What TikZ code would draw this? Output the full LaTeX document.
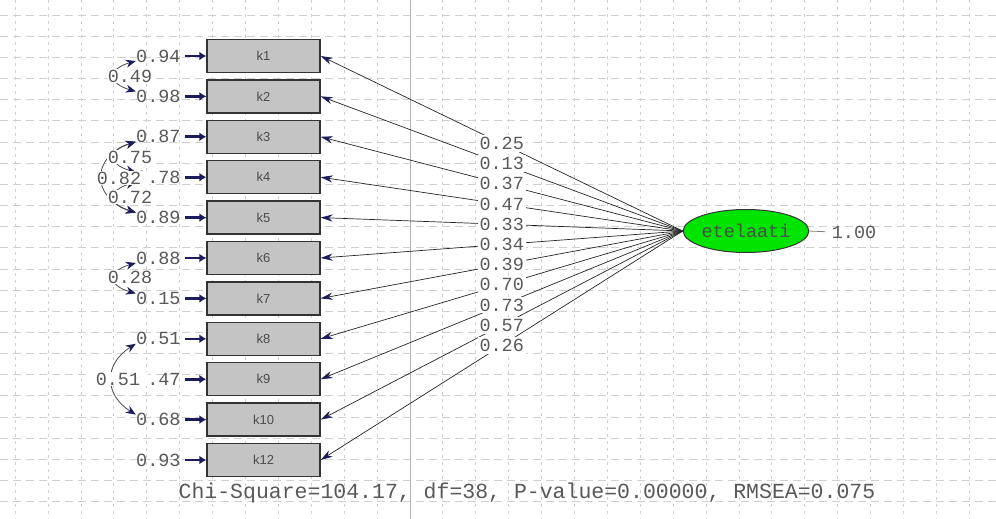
\documentclass[tikz,border=0pt]{standalone}
\usepackage{fontspec}
\usetikzlibrary{shapes.geometric,arrows.meta,calc}
\newfontfamily\lismono{Liberation Mono}
\newfontfamily\lissans{Liberation Sans}
\definecolor{lisnavy}{HTML}{1C1C5C}
\definecolor{lisgreen}{HTML}{00E400}
\definecolor{lisbox}{HTML}{C4C4C4}
\definecolor{lisgrid}{HTML}{D0D0D0}
\tikzset{
  itembox/.style={draw=black!80, line width=0.7pt, fill=lisbox, minimum width=56.5pt,
    minimum height=16.5pt, inner sep=0pt, font=\lissans\fontsize{6.5}{7}\selectfont, text=black!70},
  latent/.style={ellipse, draw=black!80, line width=0.5pt, fill=lisgreen, minimum width=56.5pt,
    minimum height=21.5pt, inner sep=0pt, font=\lismono\fontsize{9.25}{10}\selectfont, text=black!70},
  numlbl/.style={inner sep=0pt, font=\lismono\fontsize{9.25}{10}\selectfont, text=black!65},
  pathlbl/.style={numlbl, fill=white, inner sep=1pt},
  loading/.style={draw=black!85, line width=0.35pt, -{Stealth[length=6pt,width=3.6pt,color=lisnavy]}},
  errarrow/.style={draw=lisnavy, line width=1.3pt, shorten <=2pt, -{Latex[length=3.5pt,width=4.5pt]}},
  covarc/.style={draw=black!70, line width=0.4pt,
    {Stealth[length=5pt,width=4pt,color=lisnavy]}-{Stealth[length=5pt,width=4pt,color=lisnavy]}},
  gridh/.style={draw=lisgrid, line width=0.3pt, dash pattern=on 4pt off 2.5pt},
  gridv/.style={draw=lisgrid, line width=0.3pt, dash pattern=on 1.5pt off 2pt}
}

\begin{document}
\begin{tikzpicture}[x=0.5pt,y=-0.5pt]
        \fill[white] (0,0) rectangle (996,519);
        \useasboundingbox (0,0) rectangle (996,519);

        % 背景网格
        \foreach \gy in {0,...,23}
            \draw[gridh] (0,{15+21.15*\gy}) -- (996,{15+21.15*\gy});
        \foreach \gx in {0,...,30}
            \draw[gridv] ({15+32.9*\gx},0) -- ({15+32.9*\gx},519);
        \draw[draw=black!30, line width=0.5pt] (410,0) -- (410,519);

        % 潜变量
        \node[latent] (eta) at (746,231) {etelaati};
        \node[numlbl] (etavar) at (854,232) {1.00};
        \draw[black!50, line width=0.4pt, shorten >=3pt] (eta.east) -- (etavar.west);

        % 观测变量、误差方差和载荷
        \foreach \n/\ev/\lv [count=\i from 0] in {1/0.94/0.25, 2/0.98/0.13, 3/0.87/0.37,
                4/0.78/0.47, 5/0.89/0.33, 6/0.88/0.34, 7/0.15/0.39, 8/0.51/0.70,
                9/0.47/0.73, 10/0.68/0.57, 12/0.93/0.26} {
            \node[itembox] (k\n) at (263.5,{56+40.4*\i}) {k\n};
            \node[numlbl, anchor=east] (e\n) at (181,{56+40.4*\i}) {\ev};
            \draw[errarrow] (e\n) -- (k\n);
            \draw[loading] (eta.west) -- node[pathlbl, midway] {\lv} (k\n.east);
        }

        % 误差协方差
        \draw[covarc] ($(e1.west)+(0,5)$) .. controls +(-28,8) and +(-28,-8) .. ($(e2.west)+(0,-5)$);
        \draw[covarc] ($(e3.west)+(0,5)$) .. controls +(-45,15) and +(-45,-15) .. ($(e5.west)+(0,-5)$);
        \draw[covarc] ($(e3.west)+(0,5)$) .. controls +(-28,8) and +(-28,-8) .. ($(e4.west)+(0,-5)$);
        \draw[covarc] ($(e4.west)+(0,5)$) .. controls +(-28,8) and +(-28,-8) .. ($(e5.west)+(0,-5)$);
        \draw[covarc] ($(e6.west)+(0,5)$) .. controls +(-28,8) and +(-28,-8) .. ($(e7.west)+(0,-5)$);
        \draw[covarc] ($(e8.west)+(0,5)$) .. controls +(-32,20) and +(-32,-20) .. ($(e10.west)+(0,-5)$);
        \node[pathlbl, inner sep=0.5pt] (c12) at (130,76) {0.49};
        \node[pathlbl, inner sep=0.5pt] (c34) at (130,157) {0.75};
        \node[pathlbl, inner sep=0.5pt] (c45) at (130,197) {0.72};
        \node[pathlbl, inner ysep=0.5pt, inner xsep=4pt] (c35) at (119,178) {0.82};
        \node[pathlbl, inner ysep=0.5pt, inner xsep=4pt] (c810) at (118,379) {0.51};
        \node[pathlbl, inner sep=0.5pt] (c67) at (130,277) {0.28};

        % 拟合指标
        \node[numlbl, font=\lismono\fontsize{10.75}{12}\selectfont] (fit) at (527,493)
            {Chi-Square=104.17, df=38, P-value=0.00000, RMSEA=0.075};
    \end{tikzpicture}
\end{document}
